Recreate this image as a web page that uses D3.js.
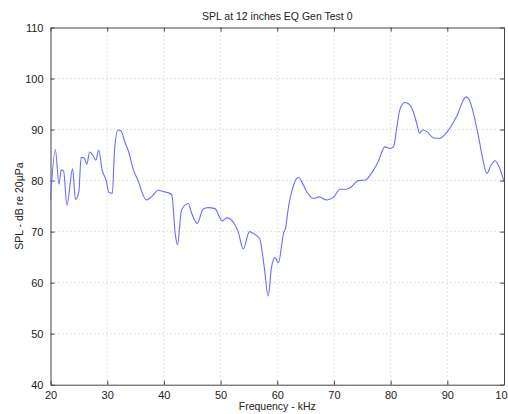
<!DOCTYPE html>
<html><head><meta charset="utf-8">
<script src="https://cdn.jsdelivr.net/npm/d3@7"></script>
<style>body{margin:0;background:#fff}svg{display:block}text{font-family:"Liberation Sans",Arial,sans-serif}</style>
</head><body><svg id="c" width="508" height="414"></svg>
<script>
const title = "SPL at 12 inches EQ Gen Test 0";
const xLabel = "Frequency - kHz";
const yLabel = "SPL - dB re 20µPa";
const xTicks = [20,30,40,50,60,70,80,90,100];
const yTicks = [40,50,60,70,80,90,100,110];
const freq = [20,20.85,21.5,21.9,22.3,22.9,23.9,24.4,25,25.4,25.9,26.4,26.9,27.4,28,28.5,29.1,29.8,30.3,30.9,31.3,31.9,32.4,33.1,33.8,34.6,35.4,36.9,37.8,39,40.1,40.8,41.4,42,42.4,43.1,44.3,44.9,45.9,46.9,47.8,49,50.3,51.1,52.4,53.1,54,55.1,55.8,56.9,57.7,58.4,59,59.6,60.2,61.1,61.5,61.9,62.8,63.4,63.8,64.3,65.2,66.4,67.4,68.7,69.9,71.1,72.2,73.1,74.3,75.5,76.6,77.8,79,79.9,80.5,81.1,81.6,82.5,83.1,84,84.6,85.1,85.6,86.4,87.5,88.7,90,91.1,91.9,92.7,93.3,93.9,94.6,95.5,96.3,97,97.7,98.4,99.1,100];
const spl = [76.2,86.1,79.3,82.1,81.9,75.2,82.3,76.3,77.8,84.5,84.5,83.2,85.6,85.1,84,86,82.1,80.1,77.7,77.5,86,89.9,89.8,87.6,85.6,82.2,80.1,76.2,76.8,78.1,77.8,77.6,77.2,69.6,67.4,74.2,75.5,73.6,71.6,74.4,74.7,74.5,72.1,72.7,71.6,70,66.6,70,69.6,68.6,63.1,57.4,63.1,64.9,63.9,69.6,70.9,74.2,78.8,80.4,80.6,79.8,77.8,76.5,76.8,76.2,76.7,78.3,78.3,78.8,80,80.1,81.4,83.7,86.6,86.3,86.6,90.5,93.8,95.3,95.1,93.5,91.2,89.3,89.9,89.6,88.4,88.3,89.6,91.5,93.2,95.5,96.4,95.8,93.2,88.6,84,81.4,83,83.9,82.8,79.8];

const svg = d3.select("#c");
const L=50.5, R=504, T=27.5, B=384.7;
const x = d3.scaleLinear().domain([20,100]).range([L,R]);
const y = d3.scaleLinear().domain([40,110]).range([B,T]);

// grid
const g = svg.append("g");
g.selectAll(".gx").data(xTicks.slice(1,-1)).join("line")
  .attr("x1",d=>x(d)).attr("x2",d=>x(d)).attr("y1",T).attr("y2",B)
  .attr("stroke","#c8c8c8").attr("stroke-width",1).attr("stroke-dasharray","1,3");
g.selectAll(".gy").data(yTicks.slice(1,-1)).join("line")
  .attr("y1",d=>y(d)).attr("y2",d=>y(d)).attr("x1",L).attr("x2",R)
  .attr("stroke","#c8c8c8").attr("stroke-width",1).attr("stroke-dasharray","1,3");

// axes with inward ticks
const fmt = d3.format("d");
const ax = svg.append("g").attr("transform",`translate(0,${B})`)
  .call(d3.axisBottom(x).tickValues(xTicks).tickFormat(fmt).tickSizeInner(-4).tickSizeOuter(0).tickPadding(7));
const axT = svg.append("g").attr("transform",`translate(0,${T})`)
  .call(d3.axisTop(x).tickValues(xTicks).tickFormat("").tickSizeInner(-4).tickSizeOuter(0));
const ay = svg.append("g").attr("transform",`translate(${L},0)`)
  .call(d3.axisLeft(y).tickValues(yTicks).tickFormat(fmt).tickSizeInner(-4).tickSizeOuter(0).tickPadding(7));
const ayR = svg.append("g").attr("transform",`translate(${R},0)`)
  .call(d3.axisRight(y).tickValues(yTicks).tickFormat("").tickSizeInner(-4).tickSizeOuter(0));
[ax,axT,ay,ayR].forEach(a=>{
  a.selectAll("path").attr("stroke","#444");
  a.selectAll("line").attr("stroke","#444");
  a.selectAll("text").attr("font-size",11).attr("fill","#222").attr("font-family","Liberation Sans, Arial, sans-serif");
});

// line
const line = d3.line().x((d,i)=>x(freq[i])).y(d=>y(d)).curve(d3.curveMonotoneX);
svg.append("path").datum(spl).attr("d",line).attr("fill","none")
  .attr("stroke","#6b6bff").attr("stroke-width",1.1);

// texts
svg.append("text").attr("x",(L+R)/2).attr("y",20).attr("text-anchor","middle")
  .attr("font-size",10.5).attr("fill","#222").text(title);
svg.append("text").attr("x",(L+R)/2).attr("y",410).attr("text-anchor","middle")
  .attr("font-size",10.5).attr("fill","#222").text(xLabel);
svg.append("text").attr("transform",`translate(23,${(T+B)/2}) rotate(-90)`).attr("text-anchor","middle")
  .attr("font-size",10.5).attr("fill","#222").text(yLabel);
</script></body></html>
